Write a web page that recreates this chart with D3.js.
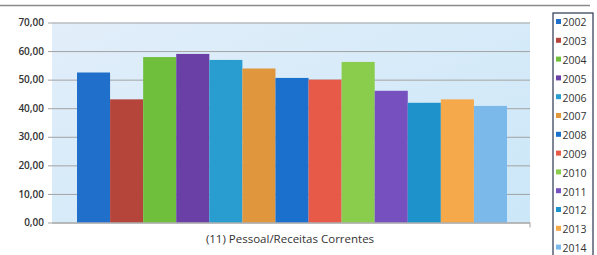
<!DOCTYPE html>
<html>
<head>
<meta charset="utf-8">
<script src="https://cdn.jsdelivr.net/npm/d3@7"></script>
<style>
  body{margin:0;background:#fff;}
  svg{display:block;font-family:"Open Sans",sans-serif;}
</style>
</head>
<body>
<div id="graph"></div>
<script>
// data
const years=["2002","2003","2004","2005","2006","2007","2008","2009","2010","2011","2012","2013","2014"]
const values=[52.5,43.1,57.9,59.0,56.9,53.9,50.6,50.0,56.2,46.1,41.9,43.1,40.8]
const colors=["#1f6fcb","#b5453b","#6fbf3c","#6a40a6","#2a9dd0","#e0963c","#1a70cc","#e65a47","#8acd4c","#7650bf","#1e93cb","#f6a94b","#7cb9eb"]
const yTicks=[0,10,20,30,40,50,60,70]
const title="(11) Pessoal/Receitas Correntes"

const width=597, height=255
const plot={left:52,right:530,top:22.5,bottom:222.5}

let svg=d3.select("#graph").append("svg")
  .attr("width",width).attr("height",height)

// top rule
svg.append("line")
  .attr("x1",0).attr("x2",590).attr("y1",5.5).attr("y2",5.5)
  .style("stroke","#8a8a8a").style("stroke-width",1.5)

// background gradient
let defs=svg.append("defs")
let grad=defs.append("linearGradient").attr("id","bg").attr("x1","0").attr("y1","0").attr("x2","1").attr("y2","1")
grad.append("stop").attr("offset","0%").attr("stop-color","#e2eefa")
grad.append("stop").attr("offset","100%").attr("stop-color","#cbe7f8")

svg.append("rect")
  .attr("x",plot.left).attr("y",plot.top)
  .attr("width",plot.right-plot.left).attr("height",plot.bottom-plot.top)
  .style("fill","url(#bg)")

// scales
let yScale=d3.scaleLinear().domain([0,70]).range([plot.bottom,plot.top])
let xScale=d3.scaleBand().domain(years).range([77,507]).padding(0)

// gridlines + axis
let yAxis=d3.axisLeft(yScale).tickValues(yTicks)
  .tickSize(-(plot.right-plot.left)).tickPadding(8)
  .tickFormat(d=>d3.format(".2f")(d).replace(".",","))
let g=svg.append("g").attr("transform",`translate(${plot.left},0)`).call(yAxis)
g.select(".domain").remove()
g.selectAll(".tick line").style("stroke","#a3a3a3").attr("x1",-4)
g.selectAll(".tick text").style("font-size","10px").style("fill","#333").style("font-weight","600")
  .style("font-family","'Open Sans',sans-serif")

// bars
svg.selectAll("rect.bar")
  .data(values)
  .enter().append("rect")
  .attr("class","bar")
  .attr("x",(d,i)=>xScale(years[i]))
  .attr("width",xScale.bandwidth())
  .attr("y",d=>yScale(d))
  .attr("height",d=>yScale(0)-yScale(d))
  .style("fill",(d,i)=>colors[i])

// x axis line
svg.append("line").attr("x1",plot.left).attr("x2",plot.right)
  .attr("y1",plot.bottom+0.5).attr("y2",plot.bottom+0.5).style("stroke","#a3a3a3")
svg.append("line").attr("x1",plot.right).attr("x2",plot.right)
  .attr("y1",plot.bottom).attr("y2",plot.bottom+5).style("stroke","#a3a3a3")

// title under chart
svg.append("text")
  .attr("x",290).attr("y",243)
  .attr("text-anchor","middle")
  .style("font-size","11.5px").style("fill","#333")
  .text(title)

// legend
svg.append("rect")
  .attr("x",553).attr("y",13).attr("width",40).attr("height",250)
  .style("fill","#fff").style("stroke","#2b3550").style("stroke-width",1.2)
let leg=svg.selectAll("g.leg").data(years).enter().append("g")
  .attr("class","leg")
  .attr("transform",(d,i)=>`translate(556,${22.5+i*18.8})`)
leg.append("rect").attr("x",0).attr("y",-3.5).attr("width",5).attr("height",5)
  .style("fill",(d,i)=>colors[i])
leg.append("text").attr("x",6.5).attr("y",3.8)
  .style("font-size","10.5px").style("fill","#333")
  .text(d=>d)
</script>
</body>
</html>
